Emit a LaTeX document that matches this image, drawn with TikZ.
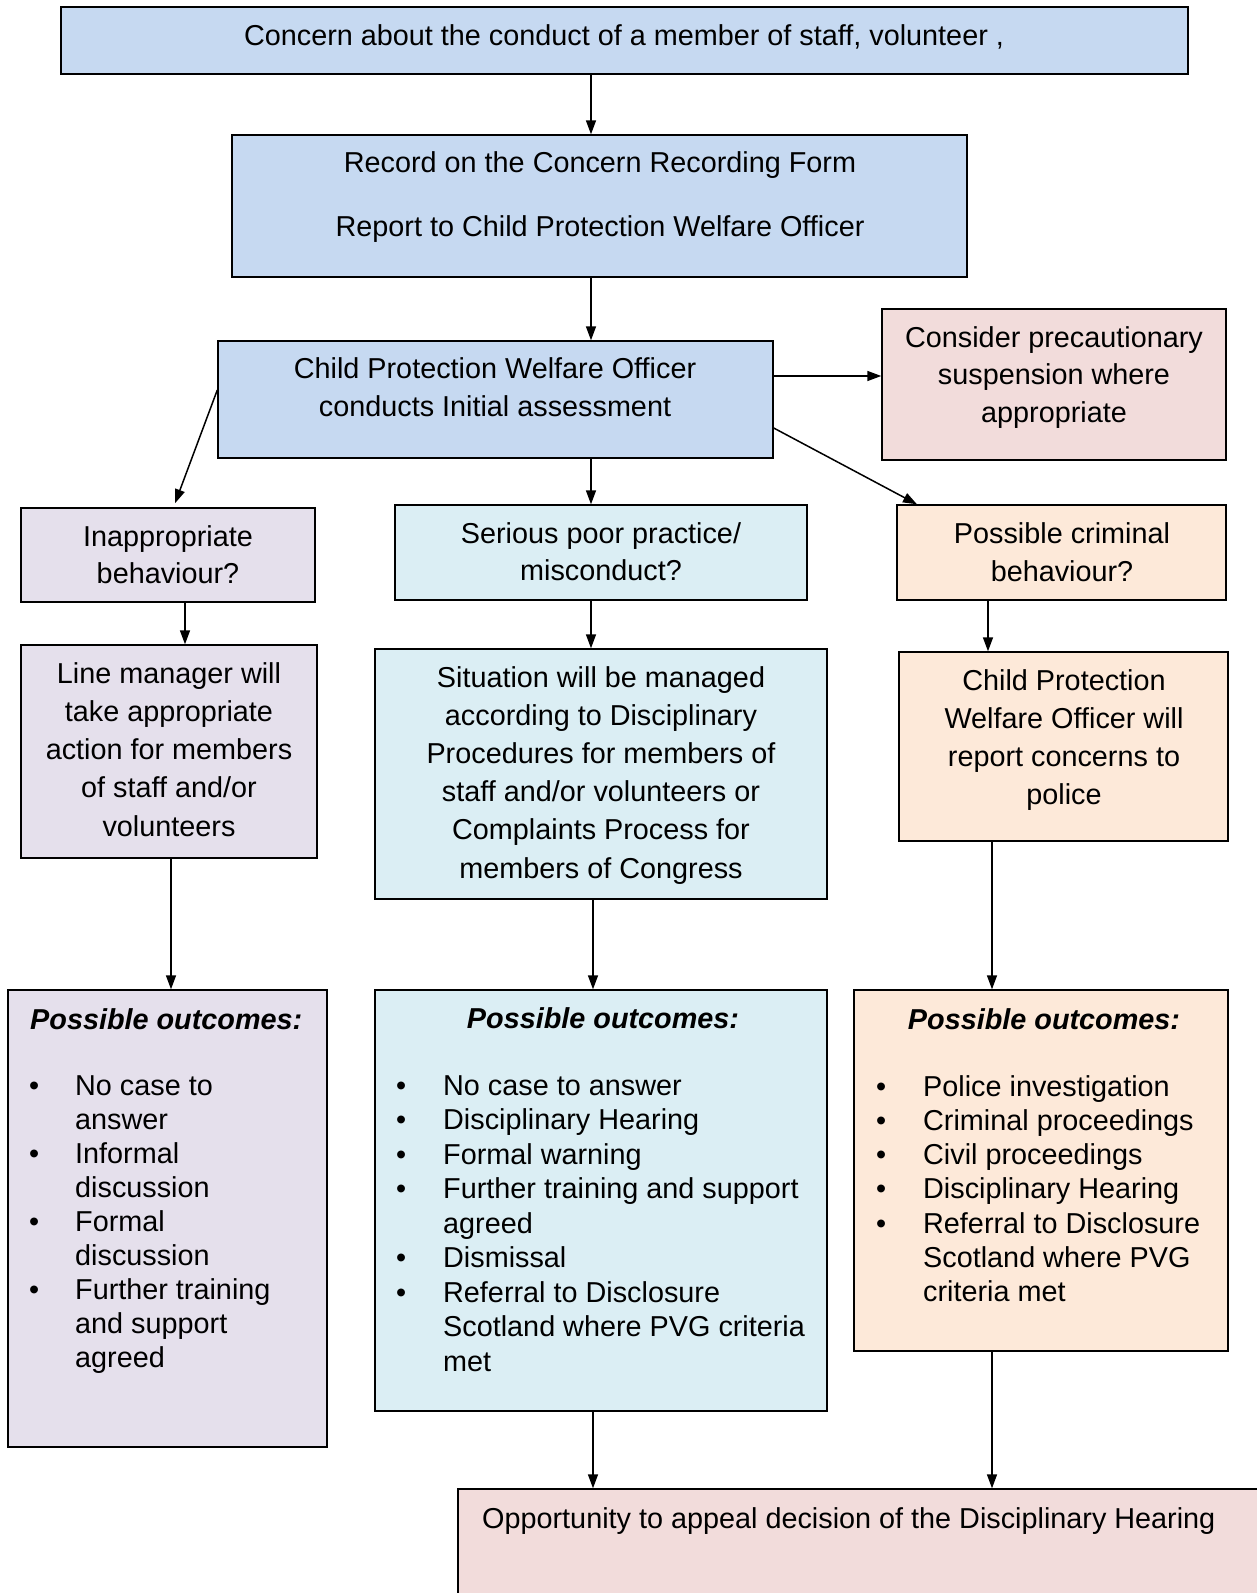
\documentclass[tikz,border=0pt]{standalone}
\usepackage{fontspec}
\setmainfont{Liberation Sans}
\usetikzlibrary{arrows.meta}
\newcommand{\fsz}[1]{\fontsize{28.8}{#1}\selectfont}
\definecolor{cblue}{HTML}{C6D9F1}
\definecolor{cpink}{HTML}{F2DCDB}
\definecolor{clav}{HTML}{E5E0EC}
\definecolor{ccyan}{HTML}{DBEEF4}
\definecolor{cpeach}{HTML}{FDE9D9}
\begin{document}
\begin{tikzpicture}[x=1pt,y=-1pt,
  box/.style={draw=black, line width=1.4pt, inner sep=0, rectangle},
  txt/.style={inner sep=0, anchor=base, align=center},
  arr/.style={line width=1.5pt, -{Triangle[length=14pt,width=10pt]}}]
% boxes
\node[box, fill=cblue, minimum width=1127pt, minimum height=67pt] (top) at (624.5,40.5) {};
\node[box, fill=cblue, minimum width=735pt, minimum height=142pt] (record) at (599.5,206) {};
\node[box, fill=cblue, minimum width=555pt, minimum height=117pt] (cpwo) at (495.5,399.5) {};
\node[box, fill=cpink, minimum width=344pt, minimum height=151pt] (consider) at (1054,384.5) {};
\node[box, fill=clav, minimum width=294pt, minimum height=94pt] (inapp) at (168,555) {};
\node[box, fill=ccyan, minimum width=412pt, minimum height=95pt] (serious) at (601,552.5) {};
\node[box, fill=cpeach, minimum width=329pt, minimum height=95pt] (crim) at (1061.5,552.5) {};
\node[box, fill=clav, minimum width=296pt, minimum height=213pt] (lineman) at (169,751.5) {};
\node[box, fill=ccyan, minimum width=452pt, minimum height=250pt] (situation) at (601,774) {};
\node[box, fill=cpeach, minimum width=329pt, minimum height=189pt] (report) at (1063.5,746.5) {};
\node[box, fill=clav, minimum width=319pt, minimum height=457pt] (outL) at (167.5,1218.5) {};
\node[box, fill=ccyan, minimum width=452pt, minimum height=421pt] (outM) at (601,1200.5) {};
\node[box, fill=cpeach, minimum width=374pt, minimum height=361pt] (outR) at (1041,1170.5) {};
\node[box, fill=cpink, minimum width=810pt, minimum height=120pt] (appeal) at (863,1549) {};
% texts
\node[txt] (t1) at (624,45) {\fsz{38}Concern about the conduct of a member of staff, volunteer ,};
\node[txt] (t2) at (600,172) {\fsz{64}\begin{tabular}[t]{@{}c@{}}Record on the Concern Recording Form\\Report to Child Protection Welfare Officer\end{tabular}};
\node[txt] (t3) at (495,378) {\fsz{38}\begin{tabular}[t]{@{}c@{}}Child Protection Welfare Officer\\conducts Initial assessment\end{tabular}};
\node[txt] (t4) at (1054,347) {\fsz{37.5}\begin{tabular}[t]{@{}c@{}}Consider precautionary\\suspension where\\appropriate\end{tabular}};
\node[txt] (t5) at (168,546) {\fsz{37}\begin{tabular}[t]{@{}c@{}}Inappropriate\\behaviour?\end{tabular}};
\node[txt] (t6) at (601,543) {\fsz{37}\begin{tabular}[t]{@{}c@{}}Serious poor practice/\\misconduct?\end{tabular}};
\node[txt] (t7) at (1062,543) {\fsz{38}\begin{tabular}[t]{@{}c@{}}Possible criminal\\behaviour?\end{tabular}};
\node[txt] (t8) at (169,683) {\fsz{38.25}\begin{tabular}[t]{@{}c@{}}Line manager will\\take appropriate\\action for members\\of staff and/or\\volunteers\end{tabular}};
\node[txt] (t9) at (601,687) {\fsz{38.2}\begin{tabular}[t]{@{}c@{}}Situation will be managed\\according to Disciplinary\\Procedures for members of\\staff and/or volunteers or\\Complaints Process for\\members of Congress\end{tabular}};
\node[txt] (t10) at (1064,690) {\fsz{38}\begin{tabular}[t]{@{}c@{}}Child Protection\\Welfare Officer will\\report concerns to\\police\end{tabular}};
\node[txt, anchor=base west] (t11) at (482,1528) {\fsz{38}Opportunity to appeal decision of the Disciplinary Hearing};
% outcome headers
\node[txt, anchor=base west] (hL) at (30,1029) {\fsz{34}\textbf{\textit{Possible outcomes:}}};
\node[txt] (hM) at (603,1028) {\fsz{34}\textbf{\textit{Possible outcomes:}}};
\node[txt] (hR) at (1044,1029) {\fsz{34}\textbf{\textit{Possible outcomes:}}};
% outcome lists
\node[txt, anchor=base west] (lL) at (29,1095) {\fsz{34}\begin{tabular}[t]{@{}p{46pt}@{}l@{}}
\textbullet & No case to\\ & answer\\
\textbullet & Informal\\ & discussion\\
\textbullet & Formal\\ & discussion\\
\textbullet & Further training\\ & and support\\ & agreed\end{tabular}};
\node[txt, anchor=base west] (lM) at (396,1095) {\fsz{34.5}\begin{tabular}[t]{@{}p{47pt}@{}l@{}}
\textbullet & No case to answer\\
\textbullet & Disciplinary Hearing\\
\textbullet & Formal warning\\
\textbullet & Further training and support\\ & agreed\\
\textbullet & Dismissal\\
\textbullet & Referral to Disclosure\\ & Scotland where PVG criteria\\ & met\end{tabular}};
\node[txt, anchor=base west] (lR) at (876,1096) {\fsz{34.3}\begin{tabular}[t]{@{}p{47pt}@{}l@{}}
\textbullet & Police investigation\\
\textbullet & Criminal proceedings\\
\textbullet & Civil proceedings\\
\textbullet & Disciplinary Hearing\\
\textbullet & Referral to Disclosure\\ & Scotland where PVG\\ & criteria met\end{tabular}};
% helper coordinates
\coordinate (X591) at (591,0);
\coordinate (X593) at (593,0);
\coordinate (X175) at (175,0);
\coordinate (X185) at (185,0);
\coordinate (X171) at (171,0);
\coordinate (X917) at (917,0);
\coordinate (X988) at (988,0);
\coordinate (X992) at (992,0);
\coordinate (Y376) at (0,376);
\coordinate (Y390) at (0,390);
\coordinate (Y428) at (0,428);
% arrows
\draw[arr] (top.south -| X591) -- (record.north -| X591);
\draw[arr] (record.south -| X591) -- (cpwo.north -| X591);
\draw[arr] (cpwo.east |- Y376) -- (consider.west |- Y376);
\draw[arr] (cpwo.west |- Y390) -- ([yshift=4pt]inapp.north -| X175);
\draw[arr] (cpwo.south -| X591) -- (serious.north -| X591);
\draw[arr] (cpwo.east |- Y428) -- (crim.north -| X917);
\draw[arr] (inapp.south -| X185) -- (lineman.north -| X185);
\draw[arr] (serious.south -| X591) -- (situation.north -| X591);
\draw[arr] (crim.south -| X988) -- (report.north -| X988);
\draw[arr] (lineman.south -| X171) -- (outL.north -| X171);
\draw[arr] (situation.south -| X593) -- (outM.north -| X593);
\draw[arr] (report.south -| X992) -- (outR.north -| X992);
\draw[arr] (outM.south -| X593) -- (appeal.north -| X593);
\draw[arr] (outR.south -| X992) -- (appeal.north -| X992);
\pgfresetboundingbox
\useasboundingbox (0,0) rectangle (1257,1593);
\end{tikzpicture}
\end{document}
